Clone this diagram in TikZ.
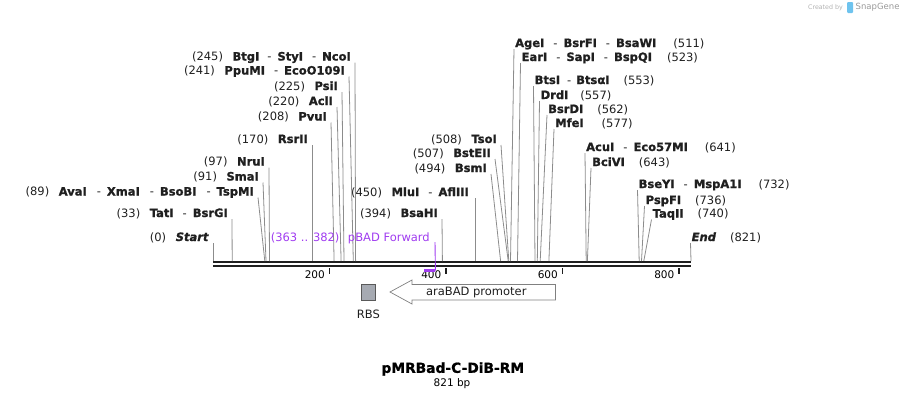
\documentclass[tikz,border=0pt]{standalone}
\usepackage{fontspec}
\setmainfont{DejaVu Sans}[BoldFeatures={FakeBold=1.2},BoldItalicFeatures={FakeBold=1.2}]
\usetikzlibrary{positioning}
\definecolor{primer}{RGB}{160,60,240}
\definecolor{rbsgray}{RGB}{166,170,178}
\definecolor{sglogo}{RGB}{110,195,238}

\begin{document}
\begin{tikzpicture}[x=1pt,y=-1pt,
		lbl/.style={inner sep=0pt,text height=8pt,text depth=0pt,font=\fontsize{11.5}{13}\selectfont,text=black!88},
		site/.style={draw=black!45,line width=0.8pt},
		tick/.style={inner sep=0pt,text height=7.5pt,text depth=0pt,font=\fontsize{10.5}{12}\selectfont}]
				\useasboundingbox (0,0) rectangle (905,400);
				
				% backbone
				\draw[line width=2pt,black!88] (213,262.3) -- (691,262.3);
				\draw[line width=2pt,black!88] (213,266.3) -- (691,266.3);
				
				% ticks
				\draw[line width=1.6pt,black!88] (329.4,268) -- (329.4,274);
				\draw[line width=1.6pt,black!88] (445.9,268) -- (445.9,274);
				\draw[line width=1.6pt,black!88] (562.3,268) -- (562.3,274);
				\draw[line width=1.6pt,black!88] (678.8,268) -- (678.8,274);
				\node[tick,anchor=east] (t200) at (325,274.5) {200};
				\node[tick,anchor=east] (t400) at (441.5,274.5) {400};
				\node[tick,anchor=east] (t600) at (558,274.5) {600};
				\node[tick,anchor=east] (t800) at (674.5,274.5) {800};
				
				% sites, left side
				\node[lbl,anchor=east] (start) at (209,237) {(0)\hspace{9.5pt}\textbf{\textit{Start}}};
				\node[lbl,anchor=east] (tati) at (228,213) {(33)\hspace{9.5pt}\textbf{TatI}\hspace{9pt}-\hspace{6pt}\textbf{BsrGI}};
				\node[lbl,anchor=east] (avai) at (254,191.5) {(89)\hspace{9.5pt}\textbf{AvaI}\hspace{10pt}-\hspace{6pt}\textbf{XmaI}\hspace{10pt}-\hspace{6pt}\textbf{BsoBI}\hspace{10pt}-\hspace{6pt}\textbf{TspMI}};
				\node[lbl,anchor=east] (smai) at (259,176.5) {(91)\hspace{9.5pt}\textbf{SmaI}};
				\node[lbl,anchor=east] (nrui) at (265,161.5) {(97)\hspace{9.5pt}\textbf{NruI}};
				\node[lbl,anchor=east] (rsrii) at (308,139) {(170)\hspace{9.5pt}\textbf{RsrII}};
				\node[lbl,anchor=east] (pvui) at (327,116.5) {(208)\hspace{9.5pt}\textbf{PvuI}};
				\node[lbl,anchor=east] (acli) at (333,101) {(220)\hspace{9.5pt}\textbf{AclI}};
				\node[lbl,anchor=east] (psii) at (338,86) {(225)\hspace{9.5pt}\textbf{PsiI}};
				\node[lbl,anchor=east] (ppumi) at (345,70.5) {(241)\hspace{9.5pt}\textbf{PpuMI}\hspace{9pt}-\hspace{6pt}\textbf{EcoO109I}};
				\node[lbl,anchor=east] (btgi) at (351,56.5) {(245)\hspace{9.5pt}\textbf{BtgI}\hspace{8pt}-\hspace{6pt}\textbf{StyI}\hspace{9pt}-\hspace{6pt}\textbf{NcoI}};
				\node[lbl,anchor=east] (bsahi) at (438,213) {(394)\hspace{9.5pt}\textbf{BsaHI}};
				\node[lbl,anchor=east] (mlui) at (469,192) {(450)\hspace{9.5pt}\textbf{MluI}\hspace{9pt}-\hspace{6pt}\textbf{AflIII}};
				\node[lbl,anchor=east] (bsmi) at (487,168) {(494)\hspace{9.5pt}\textbf{BsmI}};
				\node[lbl,anchor=east] (bsteii) at (491,153) {(507)\hspace{9.5pt}\textbf{BstEII}};
				\node[lbl,anchor=east] (tsoi) at (497,139) {(508)\hspace{9.5pt}\textbf{TsoI}};
				
				% sites, right side
				\node[lbl,anchor=west] (agei) at (515,43) {\textbf{AgeI}\hspace{9pt}-\hspace{6pt}\textbf{BsrFI}\hspace{9pt}-\hspace{6pt}\textbf{BsaWI}\hspace{17pt}(511)};
				\node[lbl,anchor=west] (eari) at (521.5,57) {\textbf{EarI}\hspace{9pt}-\hspace{6pt}\textbf{SapI}\hspace{9pt}-\hspace{6pt}\textbf{BspQI}\hspace{15pt}(523)};
				\node[lbl,anchor=west] (btsi) at (534.5,80) {\textbf{BtsI}\hspace{7pt}-\hspace{5pt}\textbf{BtsαI}\hspace{14pt}(553)};
				\node[lbl,anchor=west] (drdi) at (540.5,95) {\textbf{DrdI}\hspace{12pt}(557)};
				\node[lbl,anchor=west] (bsrdi) at (548,109) {\textbf{BsrDI}\hspace{14pt}(562)};
				\node[lbl,anchor=west] (mfei) at (555,123) {\textbf{MfeI}\hspace{18pt}(577)};
				\node[lbl,anchor=west] (acui) at (586,147) {\textbf{AcuI}\hspace{9pt}-\hspace{6pt}\textbf{Eco57MI}\hspace{17pt}(641)};
				\node[lbl,anchor=west] (bcivi) at (592,162) {\textbf{BciVI}\hspace{14pt}(643)};
				\node[lbl,anchor=west] (bseyi) at (638.5,184) {\textbf{BseYI}\hspace{9pt}-\hspace{6pt}\textbf{MspA1I}\hspace{17pt}(732)};
				\node[lbl,anchor=west] (pspfi) at (645.5,200) {\textbf{PspFI}\hspace{14pt}(736)};
				\node[lbl,anchor=west] (taqii) at (652.5,213.5) {\textbf{TaqII}\hspace{14pt}(740)};
				\node[lbl,anchor=west] (end) at (691.5,237) {\textbf{\textit{End}}\hspace{14pt}(821)};
				
				% cut positions on the backbone
				\coordinate (start-b) at (213,261);
				\coordinate (tati-b) at (232.2,261);
				\coordinate (avai-b) at (264.8,261);
				\coordinate (smai-b) at (266,261);
				\coordinate (nrui-b) at (269.5,261);
				\coordinate (rsrii-b) at (312,261);
				\coordinate (pvui-b) at (334.1,261);
				\coordinate (acli-b) at (341.1,261);
				\coordinate (psii-b) at (344,261);
				\coordinate (ppumi-b) at (353.3,261);
				\coordinate (btgi-b) at (355.6,261);
				\coordinate (bsahi-b) at (442.4,261);
				\coordinate (mlui-b) at (475,261);
				\coordinate (bsmi-b) at (500.6,261);
				\coordinate (bsteii-b) at (508.2,261);
				\coordinate (tsoi-b) at (508.8,261);
				\coordinate (agei-b) at (510.5,261);
				\coordinate (eari-b) at (517.5,261);
				\coordinate (btsi-b) at (535,261);
				\coordinate (drdi-b) at (537.3,261);
				\coordinate (bsrdi-b) at (540.2,261);
				\coordinate (mfei-b) at (548.9,261);
				\coordinate (acui-b) at (586.2,261);
				\coordinate (bcivi-b) at (587.4,261);
				\coordinate (bseyi-b) at (639.2,261);
				\coordinate (pspfi-b) at (641.5,261);
				\coordinate (taqii-b) at (643.8,261);
				\coordinate (end-b) at (691,261);
				
				%lines
				\draw[site] ([shift={(4,6)}]start.east) -- (start-b);
				\draw[site] ([shift={(4,6)}]tati.east) -- (tati-b);
				\draw[site] ([shift={(4,6)}]avai.east) -- (avai-b);
				\draw[site] ([shift={(4,6)}]smai.east) -- (smai-b);
				\draw[site] ([shift={(4,6)}]nrui.east) -- (nrui-b);
				\draw[site] ([shift={(4,6)}]rsrii.east) -- (rsrii-b);
				\draw[site] ([shift={(4,6)}]pvui.east) -- (pvui-b);
				\draw[site] ([shift={(4,6)}]acli.east) -- (acli-b);
				\draw[site] ([shift={(4,6)}]psii.east) -- (psii-b);
				\draw[site] ([shift={(4,6)}]ppumi.east) -- (ppumi-b);
				\draw[site] ([shift={(4,6)}]btgi.east) -- (btgi-b);
				\draw[site] ([shift={(4,6)}]bsahi.east) -- (bsahi-b);
				\draw[site] ([shift={(6,6)}]mlui.east) -- (mlui-b);
				\draw[site] ([shift={(4,6)}]bsmi.east) -- (bsmi-b);
				\draw[site] ([shift={(4,6)}]bsteii.east) -- (bsteii-b);
				\draw[site] ([shift={(4,6)}]tsoi.east) -- (tsoi-b);
				\draw[site] ([shift={(-1,6)}]agei.west) -- (agei-b);
				\draw[site] ([shift={(-1,6)}]eari.west) -- (eari-b);
				\draw[site] ([shift={(-1,6)}]btsi.west) -- (btsi-b);
				\draw[site] ([shift={(-1,6)}]drdi.west) -- (drdi-b);
				\draw[site] ([shift={(-1,6)}]bsrdi.west) -- (bsrdi-b);
				\draw[site] ([shift={(-1,6)}]mfei.west) -- (mfei-b);
				\draw[site] ([shift={(-1,6)}]acui.west) -- (acui-b);
				\draw[site] ([shift={(-1,6)}]bcivi.west) -- (bcivi-b);
				\draw[site] ([shift={(-1,6)}]bseyi.west) -- (bseyi-b);
				\draw[site] ([shift={(-1,6)}]pspfi.west) -- (pspfi-b);
				\draw[site] ([shift={(-1,6)}]taqii.west) -- (taqii-b);
				\draw[site] ([shift={(-1,6)}]end.west) -- (end-b);
				
				% primer
				\node[lbl,text=primer,anchor=east] (pbad) at (430,237) {(363 .. 382)\hspace{8.5pt}pBAD Forward};
				\coordinate (pbad-b) at (435.4,270.5);
				\draw[primer,line width=0.9pt] ([shift={(5,5)}]pbad.east) -- (pbad-b);
				\draw[primer,line width=2.5pt] (424.3,270.5) -- (435.4,270.5);
				
				% features
				\node[draw=black!65,fill=rbsgray,line width=0.7pt,minimum width=14.5pt,minimum height=16pt,inner sep=0pt] (rbs) at (368.3,292) {};
				\node[lbl,below=10pt of rbs] (rbs-lbl) {RBS};
				\draw[draw=black!50,fill=white,line width=0.7pt] (390,292) -- (412,280) -- (412,284.5) -- (555.5,284.5) -- (555.5,300) -- (412,300) -- (412,304) -- cycle;
				\node[lbl] (arabad) at (476.3,291.7) {araBAD promoter};
				
				% title
				\node[inner sep=0pt,font=\fontsize{13.8}{16}\bfseries] (name) at (452.8,369) {pMRBad-C-DiB-RM};
				\node[inner sep=0pt,font=\fontsize{10.5}{12}\selectfont] (size) at (452,383.5) {821 bp};
				
				% logo
				\node[inner sep=0pt,text=black!30,font=\fontsize{6.3}{7}\selectfont,anchor=east] (created) at (843,7.5) {Created by};
				\fill[sglogo,rounded corners=1pt] (847,2) rectangle (853,13);
				\node[inner sep=0pt,text=black!40,font=\fontsize{8.5}{10}\selectfont,anchor=west] (snapgene) at (855.5,7.5) {SnapGene};
				
			\end{tikzpicture}
\end{document}
